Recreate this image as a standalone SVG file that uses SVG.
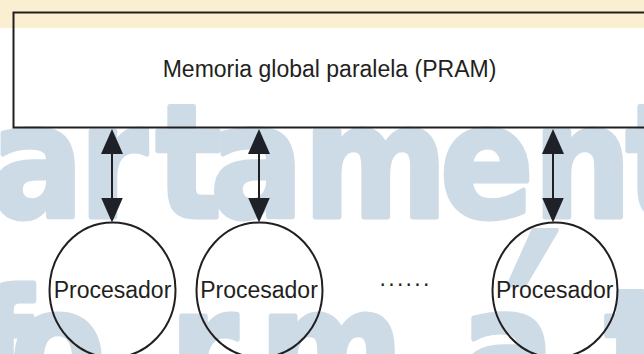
<svg xmlns="http://www.w3.org/2000/svg" width="644" height="354" viewBox="0 0 644 354">
  <defs>
    <style>
      .wm { font-family: "DejaVu Sans", "Liberation Sans", sans-serif; font-weight: bold; font-size: 157px; fill: #cddbe6; stroke: #cddbe6; stroke-width: 5; stroke-linejoin: round; }
      .lbl { font-family: "Liberation Sans", Arial, sans-serif; font-size: 23px; fill: #231f20; }
      .edge { stroke: #231f20; stroke-width: 2; fill: none; }
      .proc { stroke: #231f20; stroke-width: 2; fill: none; }
    </style>
    <marker id="head" viewBox="0 0 25 22" refX="13" refY="11" markerWidth="25" markerHeight="22" markerUnits="userSpaceOnUse" orient="auto-start-reverse">
      <path d="M0,0 L25,11 L0,22 Z" fill="#1f2128"/>
    </marker>
  </defs>

  <!-- page background -->
  <rect width="644" height="354" fill="#ffffff"/>
  <rect width="644" height="28" fill="#fbefd1"/>

  <!-- background lettering -->
  <g transform="matrix(0.88 0 0 1 0 0)">
    <text class="wm" x="-11 90 177 239 345 500 606 711" y="217">artament</text>
    <text class="wm" x="-31 12 193 295 524 687" y="402">format</text>
  </g>
  <g transform="matrix(0.6 0 0 1 0 0)">
    <text class="wm" x="868" y="470" text-anchor="middle" style="font-size:300px;stroke-width:4px">´</text>
  </g>

  <!-- shared memory -->
  <g id="memoria">
    <rect x="13.5" y="12.5" width="650" height="115" fill="none" stroke="#231f20" stroke-width="2"/>
    <text class="lbl" x="329.5" y="76.5" text-anchor="middle">Memoria global paralela (PRAM)</text>
  </g>

  <!-- bidirectional links -->
  <g id="connectors">
    <line class="edge" x1="112" y1="141" x2="112" y2="210.5" marker-start="url(#head)" marker-end="url(#head)"/>
    <line class="edge" x1="259" y1="141" x2="259" y2="210.5" marker-start="url(#head)" marker-end="url(#head)"/>
    <line class="edge" x1="553" y1="141" x2="553" y2="210.5" marker-start="url(#head)" marker-end="url(#head)"/>
  </g>

  <!-- processors -->
  <g id="proc1">
    <ellipse class="proc" cx="112.5" cy="290" rx="63" ry="67.5"/>
    <text class="lbl" x="112.5" y="297.5" text-anchor="middle">Procesador</text>
  </g>
  <g id="proc2">
    <ellipse class="proc" cx="259.5" cy="290" rx="63" ry="67.5"/>
    <text class="lbl" x="259" y="297.5" text-anchor="middle">Procesador</text>
  </g>
  <g id="ellipsis">
    <text class="lbl" x="379.5" y="285.7" letter-spacing="2.3">......</text>
  </g>
  <g id="proc3">
    <ellipse class="proc" cx="555" cy="290" rx="62.5" ry="67.5"/>
    <text class="lbl" x="554.7" y="297.5" text-anchor="middle">Procesador</text>
  </g>
</svg>
